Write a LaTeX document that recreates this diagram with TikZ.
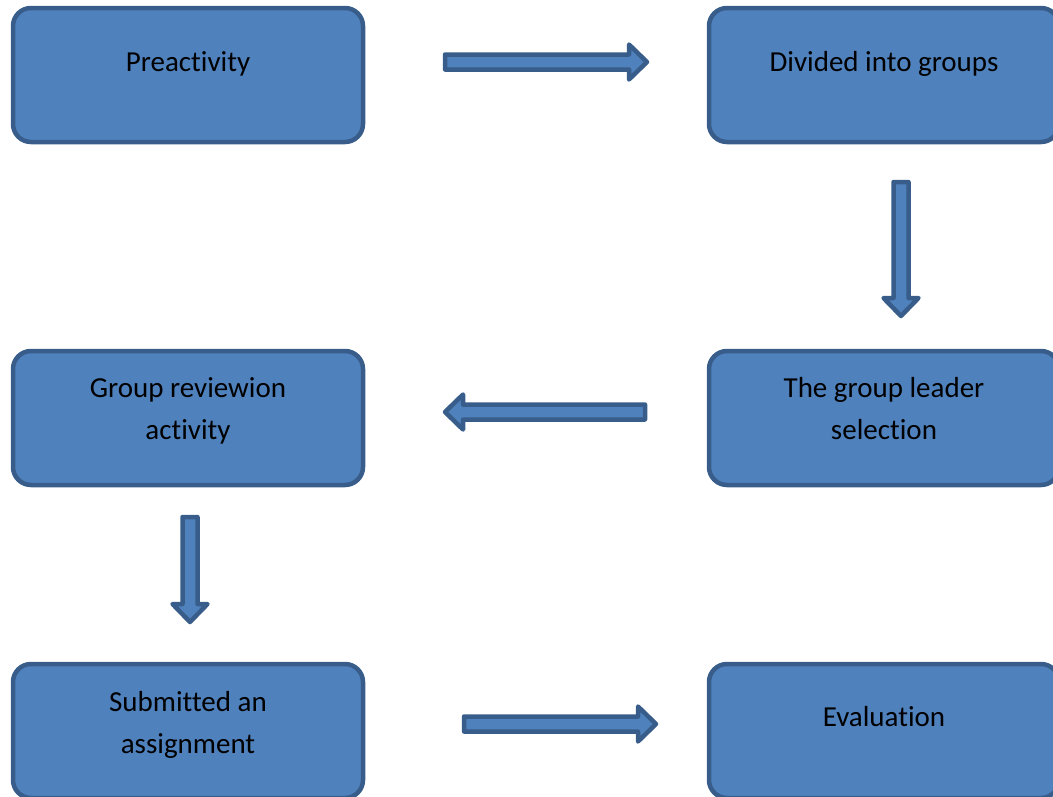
\documentclass[tikz,border=0pt]{standalone}
\usepackage{fontspec}
\setmainfont{Carlito}[Ligatures=NoCommon]
\usetikzlibrary{calc}
\definecolor{boxfill}{HTML}{4F81BD}
\definecolor{boxline}{HTML}{385D8A}
\tikzset{
  stage/.style={draw=boxline, fill=boxfill, line width=4.5pt, rounded corners=18pt,
    minimum width=350pt, minimum height=134pt, inner sep=0pt},
  lbl/.style={font=\fontsize{29}{42}\selectfont, align=center, anchor=base, inner sep=0pt},
  blk/.style={draw=boxline, fill=boxfill, line width=4.5pt, line join=round},
}
\newcommand{\myblockarrow}[2]{%
  \coordinate (hb) at ($(#2)!18pt!(#1)$);
  \draw[blk] ($(#1)!7.5pt!90:(#2)$) -- ($(hb)!7.5pt!90:(#2)$) -- ($(hb)!17.5pt!90:(#2)$)
    -- (#2) -- ($(hb)!17.5pt!-90:(#2)$) -- ($(hb)!7.5pt!-90:(#2)$)
    -- ($(#1)!7.5pt!-90:(#2)$) -- cycle;}
\begin{document}
\begin{tikzpicture}[x=1pt, y=-1pt]
  \useasboundingbox (0,0) rectangle (1053,796);
  \clip (0,0) rectangle (1053,796);
  % boxes
  \node[stage] (pre)  at (188,75)  {};
  \node[stage] (div)  at (884,75)  {};
  \node[stage] (lead) at (884,418) {};
  \node[stage] (rev)  at (188,418) {};
  \node[stage] (sub)  at (188,731) {};
  \node[stage] (eval) at (884,731) {};
  % texts (base anchor = baseline of the last line)
  \node[lbl] (tpre)  at (188,71)  {Preactivity};
  \node[lbl] (tdiv)  at (884,71)  {Divided into groups};
  \node[lbl] (tlead) at (884,439) {The group leader\\selection};
  \node[lbl] (trev)  at (188,439) {Group reviewion\\activity};
  \node[lbl] (tsub)  at (188,753) {Submitted an\\assignment};
  \node[lbl] (teval) at (884,726) {Evaluation};
  % block arrows
  \coordinate (a1s) at (445,62);  \coordinate (a1e) at (647,62);
  \coordinate (a2s) at (901,182); \coordinate (a2e) at (901,316);
  \coordinate (a3s) at (645,412); \coordinate (a3e) at (445,412);
  \coordinate (a4s) at (190,517); \coordinate (a4e) at (190,622);
  \coordinate (a5s) at (464,724); \coordinate (a5e) at (656,724);
  \myblockarrow{a1s}{a1e}
  \myblockarrow{a2s}{a2e}
  \myblockarrow{a3s}{a3e}
  \myblockarrow{a4s}{a4e}
  \myblockarrow{a5s}{a5e}
\end{tikzpicture}
\end{document}
